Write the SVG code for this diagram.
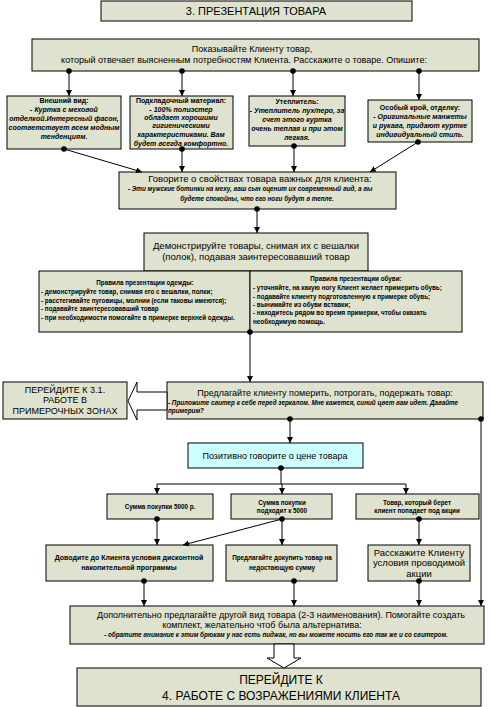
<svg xmlns="http://www.w3.org/2000/svg" width="494" height="707" viewBox="0 0 494 707">
<defs>
<marker id="arr" markerUnits="userSpaceOnUse" markerWidth="8" markerHeight="8" refX="6" refY="3" orient="auto"><path d="M0,0 L6,3 L0,6 z" fill="#000"/></marker>
<marker id="dot" markerUnits="userSpaceOnUse" markerWidth="8" markerHeight="8" refX="4" refY="4"><circle cx="4" cy="4" r="2.8" fill="#000"/></marker>
</defs>
<style>
.b{fill:#DFE2CE;stroke:#000;stroke-width:1}
.c{fill:#CCFFFF;stroke:#000;stroke-width:1}
.w{fill:#fff;stroke:#000;stroke-width:1}
text{font-family:"Liberation Sans",Arial,sans-serif;fill:#000}
.m{text-anchor:middle}
.t11{font-size:11px}
.t12{font-size:12px}
.t9{font-size:9px}
.t95{font-size:9.5px}
.s7{font-size:7px;font-weight:bold}
.i7{font-size:7px;font-weight:bold;font-style:italic}
.s65{font-size:6.3px;font-weight:bold}
.i65{font-size:6.3px;font-weight:bold;font-style:italic}
.ln{stroke:#000;stroke-width:1;fill:none}
.ar{marker-end:url(#arr)}
.dt{marker-start:url(#dot)}
</style>
<rect width="494" height="707" fill="#fff"/>

<g id="title"><rect class="b" x="101" y="1" width="311" height="20"/><text class="m t11" x="256" y="15">3. ПРЕЗЕНТАЦИЯ ТОВАРА</text></g>

<g id="show"><rect class="b" x="32" y="39" width="447" height="32"/>
<text class="m t9" x="252" y="52">Показывайте Клиенту товар,</text>
<text class="m t9" x="244" y="63">который отвечает выясненным потребностям Клиента. Расскажите о товаре. Опишите:</text></g>

<g id="look"><rect class="b" x="7" y="96" width="114" height="53"/>
<text class="m s7" x="64" y="103">Внешний вид:</text>
<text class="m i7" x="64" y="112">- Куртка с меховой</text>
<text class="m i7" x="64" y="121">отделкой.Интересный фасон,</text>
<text class="m i7" x="64" y="130">соответствует всем модным</text>
<text class="m i7" x="64" y="139">тенденциям.</text></g>

<g id="lining"><rect class="b" x="130" y="96" width="103" height="53"/>
<text class="m s7" x="181" y="103">Подкладочный материал:</text>
<text class="m i7" x="181" y="112">- 100% полиэстер</text>
<text class="m i7" x="181" y="120">обладает хорошими</text>
<text class="m i7" x="181" y="128">гигиеническими</text>
<text class="m i7" x="181" y="137">характеристиками. Вам</text>
<text class="m i7" x="181" y="146">будет всегда комфортно.</text></g>

<g id="insul"><rect class="b" x="249" y="96" width="96" height="50"/>
<text class="m s7" x="297" y="104">Утеплитель:</text>
<text class="m i7" x="297" y="113">- Утеплитель пух/перо, за</text>
<text class="m i7" x="297" y="122">счет этого куртка</text>
<text class="m i7" x="297" y="131">очень теплая и при этом</text>
<text class="m i7" x="297" y="140">легкая.</text></g>

<g id="cut"><rect class="b" x="368" y="100" width="104" height="42"/>
<text class="m s7" x="420" y="110">Особый крой, отделку:</text>
<text class="m i7" x="420" y="119">- Оригинальные манжеты</text>
<text class="m i7" x="420" y="128">и рукава, придают куртке</text>
<text class="m i7" x="420" y="137">индивидуальный стиль.</text></g>

<g id="props"><rect class="b" x="119" y="172" width="277" height="37"/>
<text class="m t95" x="260" y="182">Говорите о свойствах товара важных для клиента:</text>
<text class="i65" x="128" y="191">-  Эти мужские ботинки на меху, ваш сын оценит их современный вид, а вы</text>
<text class="m i65" x="257" y="201">будете спокойны, что его ноги будут в тепле.</text></g>

<g id="demo"><rect class="b" x="144" y="233" width="224" height="38"/>
<text class="m t95" x="256" y="249">Демонстрируйте товары, снимая их с вешалки</text>
<text class="m t95" x="256" y="260">(полок), подавая заинтересовавший товар</text></g>

<g id="rules-clothes"><rect class="b" x="39" y="271" width="211" height="61"/>
<text class="m s65" x="145" y="285">Правила презентации одежды:</text>
<text class="s65" x="41" y="294">- демонстрируйте  товар, снимая его с вешалки, полки;</text>
<text class="s65" x="41" y="303">- расстегивайте пуговицы, молнии (если таковы имеются);</text>
<text class="s65" x="41" y="311">- подавайте  заинтересовавший товар</text>
<text class="s65" x="41" y="320">- при необходимости помогайте в примерке верхней одежды.</text></g>

<g id="rules-shoes"><rect class="b" x="250" y="271" width="212" height="61"/>
<text class="m s65" x="356" y="281">Правила презентации обуви:</text>
<text class="s65" x="253" y="290">- уточняйте, на какую ногу Клиент желает примерить обувь;</text>
<text class="s65" x="253" y="299">- подавайте клиенту подготовленную к примерке обувь;</text>
<text class="s65" x="253" y="307">- вынимайте из обуви вставки;</text>
<text class="s65" x="253" y="315">- находитесь рядом во время примерки, чтобы оказать</text>
<text class="s65" x="253" y="324">необходимую помощь.</text></g>

<g id="goto31"><rect class="b" x="3" y="382" width="124" height="37"/>
<text class="m t9" x="65" y="393">ПЕРЕЙДИТЕ К  3.1.</text>
<text class="m t9" x="65" y="403">РАБОТЕ В</text>
<text class="m t9" x="65" y="414">ПРИМЕРОЧНЫХ ЗОНАХ</text></g>

<g id="offer"><rect class="b" x="167" y="382" width="316" height="37"/>
<text class="m t9" x="325" y="396">Предлагайте клиенту померить, потрогать, подержать товар:</text>
<text class="i65" x="168" y="405">-  Приложите свитер к себе перед зеркалом. Мне кажется, синий цвет вам идет. Давайте</text>
<text class="i65" x="168" y="413">примерим?</text></g>

<g id="price"><rect class="c" x="188" y="443" width="175" height="25"/>
<text class="m t9" x="275" y="459">Позитивно говорите о цене  товара</text></g>

<g id="sum5000"><rect class="b" x="107" y="494" width="106" height="25"/>
<text class="m s65" x="160" y="509">Сумма покупки 5000 р.</text></g>

<g id="near5000"><rect class="b" x="231" y="494" width="101" height="25"/>
<text class="m s65" x="282" y="505">Сумма покупки</text>
<text class="m s65" x="282" y="513">подходит к 5000</text></g>

<g id="promo"><rect class="b" x="356" y="494" width="123" height="25"/>
<text class="m s65" x="417" y="505">Товар, который берет</text>
<text class="m s65" x="417" y="513">клиент попадает под акции</text></g>

<g id="discount"><rect class="b" x="46" y="545" width="167" height="36"/>
<text class="m s7" x="129" y="560">Доводите до Клиента условия дисконтной</text>
<text class="m s7" x="129" y="570">накопительной программы</text></g>

<g id="topup"><rect class="b" x="226" y="545" width="111" height="36"/>
<text class="m s65" x="282" y="560">Предлагайте докупить товар на</text>
<text class="m s65" x="282" y="570">недостающую сумму</text></g>

<g id="tellpromo"><rect class="b" x="368" y="545" width="102" height="36"/>
<text class="m t95" x="419" y="556">Расскажите Клиенту</text>
<text class="m t95" x="419" y="566">условия проводимой</text>
<text class="m t95" x="419" y="577">акции</text></g>

<g id="extra"><rect class="b" x="70" y="606" width="414" height="38"/>
<text class="m t9" x="281" y="618">Дополнительно предлагайте  другой вид товара (2-3 наименования). Помогайте создать</text>
<text class="m t9" x="262" y="628">комплект,   желательно чтоб была альтернатива:</text>
<text class="m i65" x="276" y="637">- обратите внимание  к этим брюкам у нас есть пиджак, но вы можете носить его так же и со свитером.</text></g>

<g id="goto4"><rect class="b" x="77" y="668" width="404" height="38"/>
<text class="m t12" x="281" y="684">ПЕРЕЙДИТЕ   К</text>
<text class="m t12" x="281" y="700">4. РАБОТЕ  С ВОЗРАЖЕНИЯМИ КЛИЕНТА</text></g>

<g id="connectors">
<line class="ln dt ar" x1="69" y1="71" x2="69" y2="96"/>
<line class="ln dt ar" x1="182" y1="71" x2="182" y2="96"/>
<line class="ln dt ar" x1="293" y1="71" x2="293" y2="96"/>
<line class="ln dt ar" x1="419" y1="71" x2="419" y2="100"/>
<line class="ln dt ar" x1="64" y1="149" x2="142" y2="172"/>
<line class="ln dt ar" x1="182" y1="149" x2="182" y2="172"/>
<line class="ln dt ar" x1="294" y1="146" x2="294" y2="172"/>
<line class="ln dt ar" x1="418" y1="142" x2="370" y2="172"/>
<line class="ln dt ar" x1="257" y1="209" x2="257" y2="233"/>
<line class="ln dt ar" x1="250" y1="332" x2="250" y2="382"/>
<line class="ln dt ar" x1="290" y1="419" x2="290" y2="443"/>
<line class="ln dt ar" x1="481" y1="419" x2="481" y2="606"/>
<line class="ln dt" x1="281" y1="468" x2="281" y2="484"/>
<line class="ln" x1="157" y1="484" x2="406" y2="484"/>
<line class="ln ar" x1="157" y1="484" x2="157" y2="494"/>
<line class="ln ar" x1="282" y1="484" x2="282" y2="494"/>
<line class="ln ar" x1="406" y1="484" x2="406" y2="494"/>
<line class="ln dt ar" x1="157" y1="519" x2="157" y2="545"/>
<line class="ln dt ar" x1="282" y1="519" x2="282" y2="545"/>
<line class="ln ar" x1="282" y1="519" x2="183" y2="545"/>
<line class="ln dt ar" x1="419" y1="519" x2="419" y2="545"/>
<line class="ln dt ar" x1="144" y1="581" x2="144" y2="606"/>
<line class="ln dt ar" x1="294" y1="581" x2="294" y2="606"/>
<line class="ln dt ar" x1="419" y1="581" x2="419" y2="606"/>
<polygon class="w" points="167,392 137,392 137,382 128,401 137,420 137,410 167,410"/>
<polygon class="w" points="274,644 294,644 294,658 301,658 284,668 267,658 274,658"/>
</g>
</svg>
